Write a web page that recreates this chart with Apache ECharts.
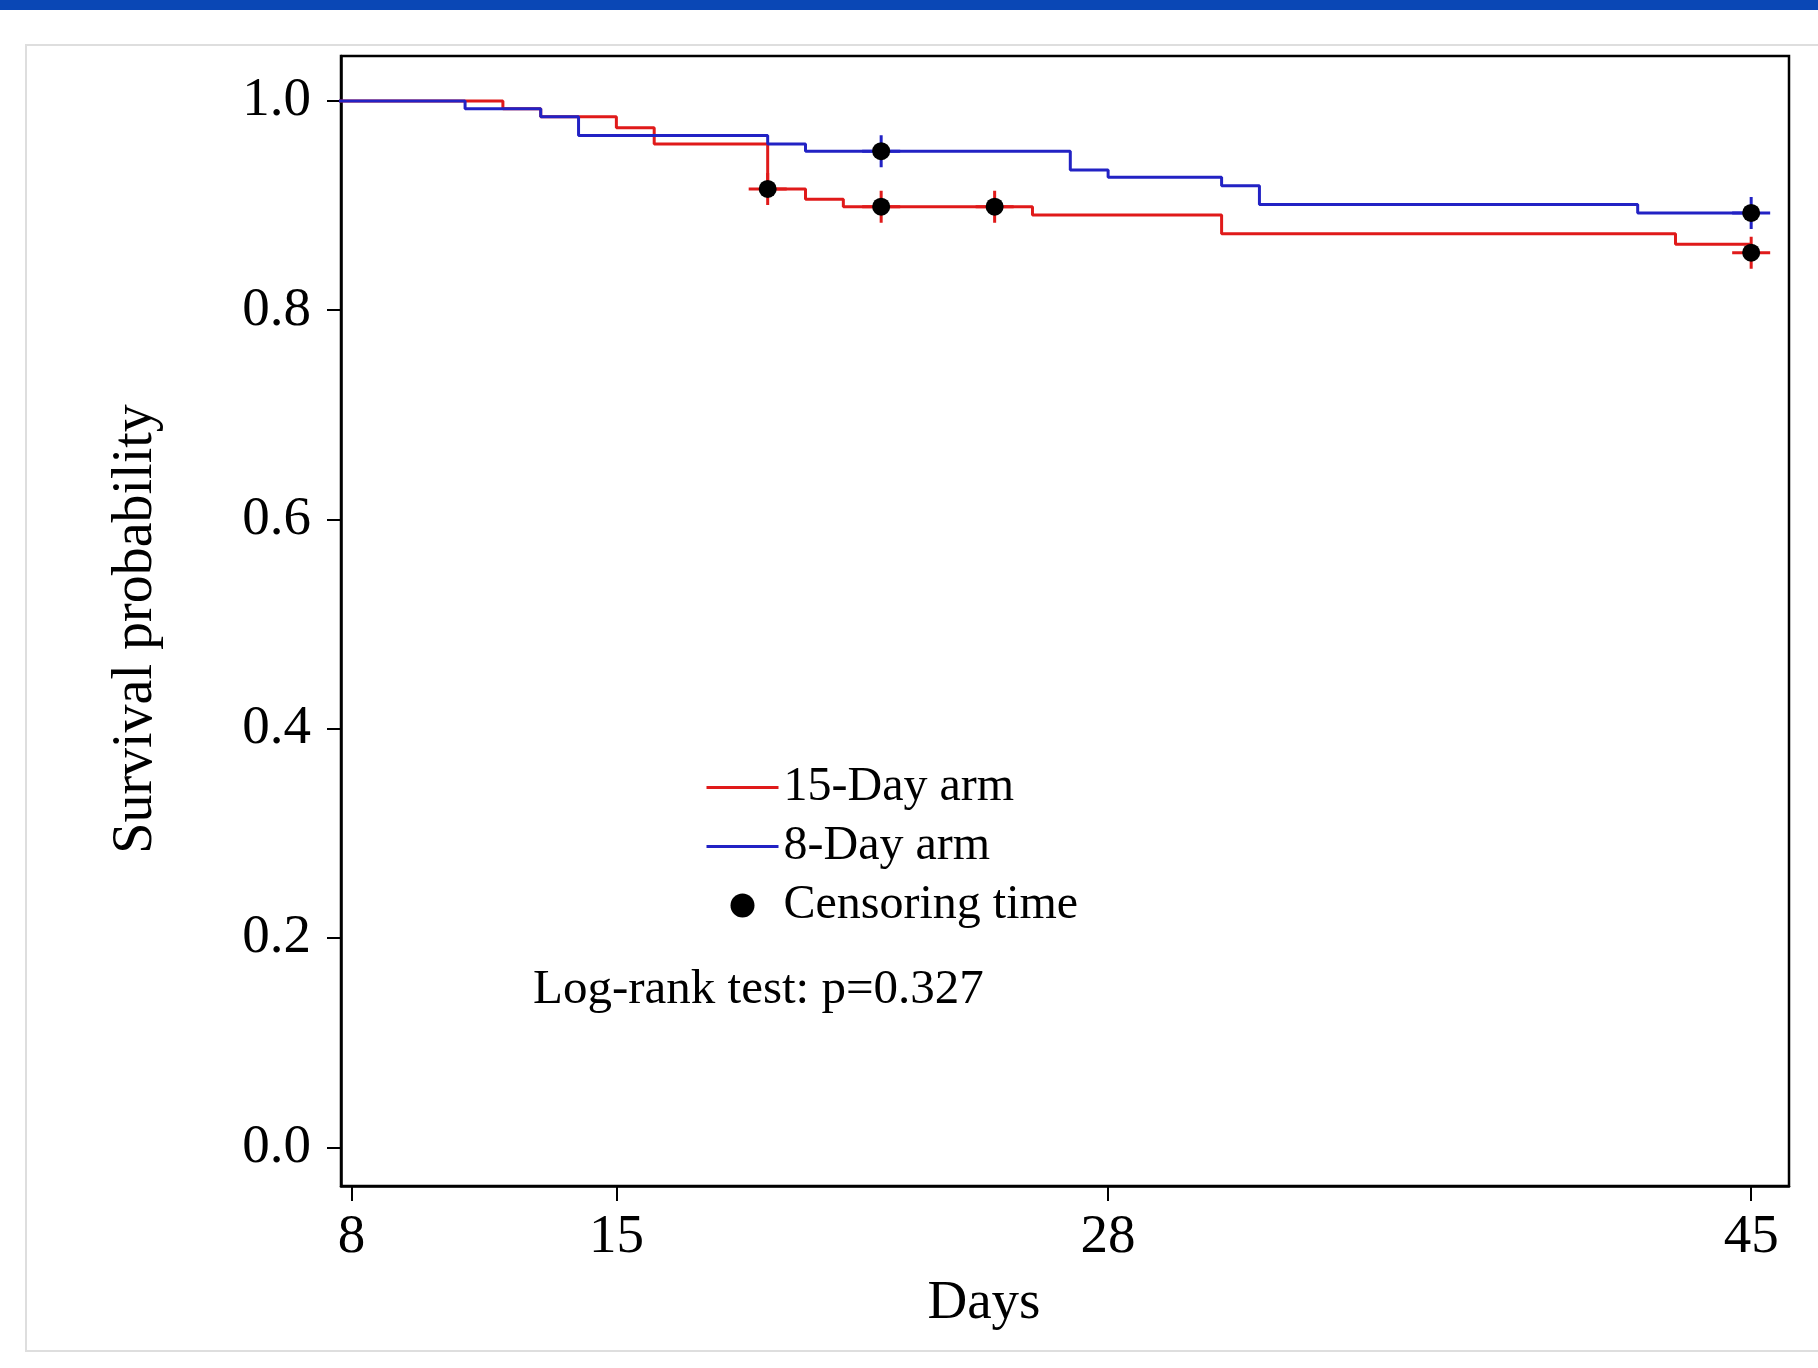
<!DOCTYPE html>
<html>
<head>
<meta charset="utf-8">
<script src="https://cdn.jsdelivr.net/npm/echarts@6/dist/echarts.min.js"></script>
<style>
html,body{margin:0;padding:0;background:#fff;}
#chart{width:1818px;height:1368px;}
</style>
</head>
<body>
<div id="chart"></div>
<script>
// ---- data ----
const arm15Name = '15-Day arm';
const arm8Name = '8-Day arm';
const censorName = 'Censoring time';

const arm15Times = [0, 12, 13, 15, 16, 19, 20, 21, 26, 31, 43, 45];
const arm15Surv  = [1, 0.9926, 0.985, 0.9745, 0.959, 0.916, 0.906, 0.899, 0.891, 0.873, 0.863, 0.855];

const arm8Times = [0, 11, 13, 14, 19, 20, 27, 28, 31, 32, 42, 45];
const arm8Surv  = [1, 0.9926, 0.985, 0.967, 0.959, 0.952, 0.934, 0.927, 0.919, 0.901, 0.893, 0.893];

const arm15CensorTimes = [19, 22, 25, 45];
const arm15CensorSurv  = [0.916, 0.899, 0.899, 0.855];
const arm8CensorTimes  = [22, 45];
const arm8CensorSurv   = [0.952, 0.893];

const xTickValues = [8, 15, 28, 45];
const yTickValues = [0, 0.2, 0.4, 0.6, 0.8, 1.0];

const xTitle = 'Days';
const yTitle = 'Survival probability';
const testText = 'Log-rank test: p=0.327';

// ---- build ----
const zip = (a, b) => a.map((v, i) => [v, b[i]]);
const red = '#e01a1a';
const blue = '#2222c4';
const font = "'Liberation Serif', 'Times New Roman', serif";
const plusPath = 'path://M17.5,0 H20.5 V14.5 H38 V17.5 H20.5 V32 H17.5 V17.5 H0 V14.5 H17.5 Z';
const hidden = {color: 'rgba(0,0,0,0)', borderColor: 'rgba(0,0,0,0)', borderWidth: 0};

const chart = echarts.init(document.getElementById('chart'), null, {renderer: 'canvas'});
chart.setOption({
  backgroundColor: '#fff',
  animation: false,
  grid: {left: 341, top: 56, right: 29, bottom: 182, show: true,
         borderColor: '#000', borderWidth: 2.5, backgroundColor: 'transparent'},
  xAxis: {
    type: 'value', min: 7.72, max: 46.0,
    splitLine: {show: false},
    axisLine: {show: true, onZero: false, lineStyle: {color: '#000', width: 2.5}},
    axisTick: {show: true, length: 15, lineStyle: {color: '#000', width: 2}, customValues: xTickValues},
    axisLabel: {show: true, margin: 24, color: '#000', fontSize: 55, fontFamily: font,
                customValues: xTickValues, formatter: v => String(v)}
  },
  yAxis: {
    type: 'value', min: -0.037, max: 1.043,
    splitLine: {show: false},
    axisLine: {show: true, onZero: false, lineStyle: {color: '#000', width: 2.5}},
    axisTick: {show: true, length: 14, lineStyle: {color: '#000', width: 2}, customValues: yTickValues},
    axisLabel: {show: true, margin: 30, color: '#000', fontSize: 55, fontFamily: font,
                customValues: yTickValues, formatter: v => Number(v).toFixed(1)}
  },
  legend: {
    left: 700, top: 753, orient: 'vertical', itemWidth: 72, itemHeight: 24, itemGap: 0,
    selectedMode: false,
    textStyle: {color: '#000', fontSize: 48, fontFamily: font, lineHeight: 59},
    data: [
      {name: arm15Name, itemStyle: hidden, lineStyle: {color: red, width: 3}},
      {name: arm8Name, itemStyle: hidden, lineStyle: {color: blue, width: 3}},
      {name: censorName, icon: 'circle'}
    ]
  },
  series: [
    {name: arm15Name, type: 'line', step: 'end', symbol: 'none', data: zip(arm15Times, arm15Surv),
     lineStyle: {color: red, width: 3}, itemStyle: {color: red}, z: 2},
    {name: arm8Name, type: 'line', step: 'end', symbol: 'none', data: zip(arm8Times, arm8Surv),
     lineStyle: {color: blue, width: 3}, itemStyle: {color: blue}, z: 3},
    {name: 'arm15-censor-mark', type: 'scatter', symbol: plusPath, symbolSize: [38, 32],
     data: zip(arm15CensorTimes, arm15CensorSurv), itemStyle: {color: red, opacity: 1}, z: 4},
    {name: 'arm8-censor-mark', type: 'scatter', symbol: plusPath, symbolSize: [38, 32],
     data: zip(arm8CensorTimes, arm8CensorSurv), itemStyle: {color: blue, opacity: 1}, z: 4},
    {name: censorName, type: 'scatter', symbol: 'circle', symbolSize: 18,
     data: zip(arm15CensorTimes, arm15CensorSurv).concat(zip(arm8CensorTimes, arm8CensorSurv)),
     itemStyle: {color: '#000', opacity: 1}, z: 5}
  ],
  graphic: [
    {type: 'rect', shape: {x: 0, y: 0, width: 1818, height: 10}, style: {fill: '#0a47b5'}, z: 0, silent: true},
    {type: 'rect', shape: {x: 26, y: 45, width: 1830, height: 1306}, style: {fill: 'none', stroke: '#dedede', lineWidth: 2}, z: 0, silent: true},
    {type: 'text', x: 984, y: 1304, style: {text: xTitle, fontSize: 55, fontFamily: font, fill: '#000', align: 'center', verticalAlign: 'middle'}, silent: true},
    {type: 'text', x: 136, y: 629, rotation: Math.PI / 2, style: {text: yTitle, fontSize: 56, fontFamily: font, fill: '#000', align: 'center', verticalAlign: 'middle'}, silent: true},
    {type: 'text', x: 533, y: 990, style: {text: testText, fontSize: 49, fontFamily: font, fill: '#000', align: 'left', verticalAlign: 'middle'}, silent: true}
  ]
});
</script>
</body>
</html>
